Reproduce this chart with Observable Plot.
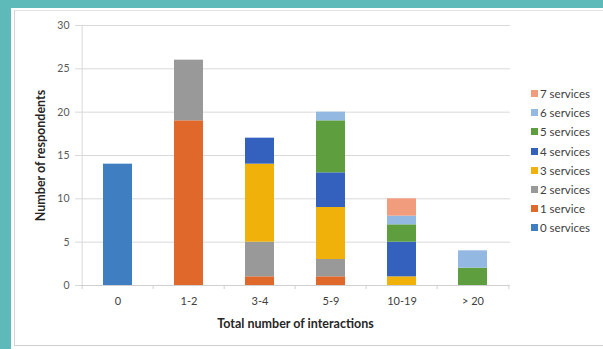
<!DOCTYPE html>
<html>
<head>
<meta charset="utf-8">
<script src="https://cdn.jsdelivr.net/npm/d3@7"></script>
<script src="https://cdn.jsdelivr.net/npm/@observablehq/plot@0.6"></script>
<style>
  html, body { margin: 0; padding: 0; }
  body { width: 603px; height: 349px; overflow: hidden; background: #5dbab9; font-family: Lato, "Open Sans", sans-serif; }
  #frame { position: relative; width: 603px; height: 349px; }
  #panel { position: absolute; left: 11px; top: 8px; width: 592px; height: 341px; background: #fff; }
  #inner { position: absolute; left: 3px; top: 2px; right: 0; bottom: 3px; border-left: 1px solid #d4d4d4; border-top: 1px solid #e4e4e4; border-bottom: 1px solid #cfcfcf; }
  #chart { position: absolute; left: 0; top: 0; }
  #legend { position: absolute; left: 531px; top: 84px; font-size: 11.5px; color: #404040; }
  #legend .item { display: flex; align-items: center; height: 19.2px; white-space: nowrap; }
  #legend .sw { width: 7px; height: 7px; margin-right: 2px; }
</style>
</head>
<body>
<div id="frame">
  <div id="panel"><div id="inner"></div></div>
  <div id="chart"></div>
  <div id="legend"></div>
</div>
<script>
// Interaction bands on the x axis
const interactions = ["0", "1-2", "3-4", "5-9", "10-19", "> 20"];

// Number of services used, bottom of the stack first
const services = ["0 services", "1 service", "2 services", "3 services", "4 services", "5 services", "6 services", "7 services"];
const serviceColors = ["#3f7fc1", "#e0682a", "#999999", "#efb10a", "#3461bd", "#5f9e3f", "#93b8e2", "#f29c7e"];

// Respondents per interaction band, one array per service count (same order as interactions)
const s0 = [14, 0, 0, 0, 0, 0];
const s1 = [0, 19, 1, 1, 0, 0];
const s2 = [0, 7, 4, 2, 0, 0];
const s3 = [0, 0, 9, 6, 1, 0];
const s4 = [0, 0, 3, 4, 4, 0];
const s5 = [0, 0, 0, 6, 2, 2];
const s6 = [0, 0, 0, 1, 1, 2];
const s7 = [0, 0, 0, 0, 2, 0];

const yTicks = [0, 5, 10, 15, 20, 25, 30];

const seriesValues = [s0, s1, s2, s3, s4, s5, s6, s7];
const rows = [];
interactions.forEach((band, i) => {
  services.forEach((svc, j) => {
    if (seriesValues[j][i] > 0) rows.push({band, service: svc, count: seriesValues[j][i]});
  });
});

const W = 603, H = 349;
const mLeft = 80, mRight = 93, mTop = 25, mBottom = 64;
const paddingInner = 0.585;
const step = (W - mLeft - mRight) / interactions.length;

const chart = Plot.plot({
  width: W,
  height: H,
  marginLeft: mLeft,
  marginRight: mRight,
  marginTop: mTop,
  marginBottom: mBottom,
  style: {background: "transparent", fontFamily: "Lato, 'Open Sans', sans-serif", overflow: "visible"},
  // outer padding of half the inner padding keeps each band one full step wide
  x: {domain: interactions, paddingInner, paddingOuter: paddingInner / 2, label: null},
  y: {domain: [0, 30], label: null},
  color: {domain: services, range: serviceColors},
  marks: [
    Plot.gridY(yTicks, {stroke: "#d9d9d9", strokeOpacity: 1, strokeWidth: 1}),
    Plot.axisY(yTicks, {tickSize: 5, stroke: "#d9d9d9", tickPadding: 6, fill: "#595959", fontSize: 10.5, label: null}),
    Plot.ruleX([interactions[0]], {dx: -step / 2, stroke: "#d9d9d9"}),
    Plot.barY(rows, {x: "band", y: "count", fill: "service"}),
    Plot.ruleY([0], {stroke: "#d0d0d0"}),
    Plot.axisX({tickSize: 0, tickPadding: 12, fill: "#404040", fontSize: 11, label: null}),
    Plot.axisX({tickSize: 4, stroke: "#d0d0d0", text: null, dx: -step / 2, label: null}),
    Plot.axisX([interactions[interactions.length - 1]], {tickSize: 4, stroke: "#d0d0d0", text: null, dx: step / 2, label: null}),
    Plot.text(["Total number of interactions"], {
      frameAnchor: "bottom", dy: 42, fontWeight: "bold", fontSize: 12.5, fill: "#262626"
    }),
    Plot.text(["Number of respondents"], {
      frameAnchor: "left", textAnchor: "middle", dx: -40, rotate: -90, fontWeight: "bold", fontSize: 12.5, fill: "#262626"
    })
  ]
});
document.getElementById("chart").appendChild(chart);

// Legend: top entry is the highest service count
const legend = document.getElementById("legend");
services.slice().reverse().forEach((svc) => {
  const item = document.createElement("div");
  item.className = "item";
  const sw = document.createElement("span");
  sw.className = "sw";
  sw.style.background = chart.scale("color").apply(svc);
  const label = document.createElement("span");
  label.textContent = svc;
  item.appendChild(sw);
  item.appendChild(label);
  legend.appendChild(item);
});
</script>
</body>
</html>
